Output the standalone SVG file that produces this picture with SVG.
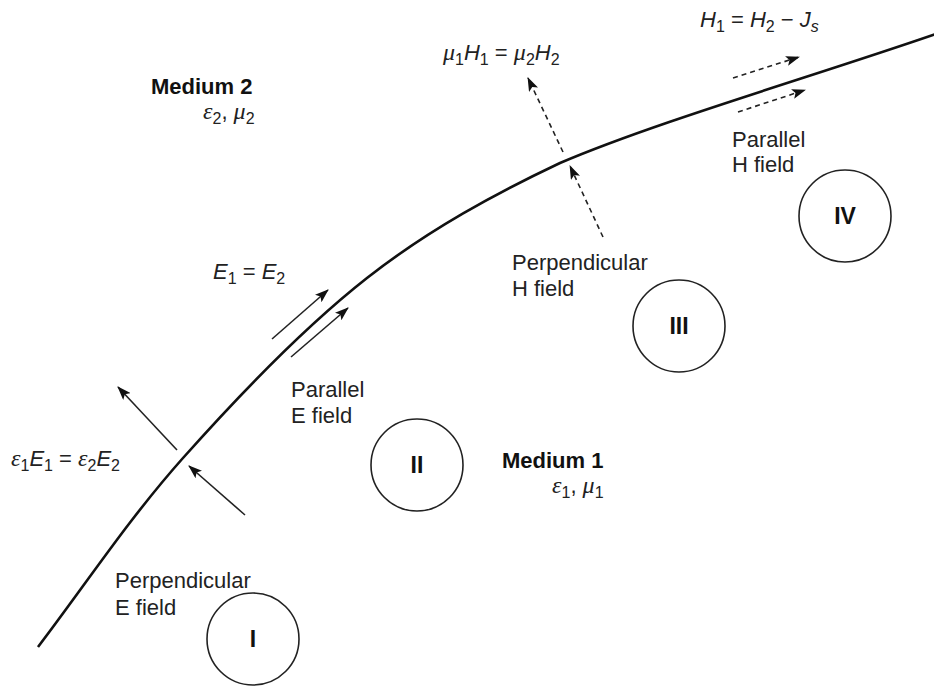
<svg xmlns="http://www.w3.org/2000/svg" width="934" height="689" viewBox="0 0 934 689">
<defs>
<style>
.t{font-family:"Liberation Sans",Arial,sans-serif;font-size:22px;fill:#222}
.b{font-family:"Liberation Sans",Arial,sans-serif;font-size:22px;font-weight:bold;fill:#111}
.m{font-family:"Liberation Sans",Arial,sans-serif;font-size:22px;font-style:italic;fill:#222}
.g{font-family:"Liberation Serif","Times New Roman",serif;font-style:italic;font-size:24px}
.s{font-style:normal;font-size:16px}
.u{font-style:normal}
.circ{fill:none;stroke:#222;stroke-width:1.6}
.num{font-family:"Liberation Sans",Arial,sans-serif;font-size:23px;font-weight:bold;fill:#111;text-anchor:middle}
.arr{stroke:#222;stroke-width:1.6;fill:none;marker-end:url(#ah)}
.dash{stroke:#222;stroke-width:1.6;fill:none;stroke-dasharray:5 4;marker-end:url(#ah)}
</style>
<marker id="ah" viewBox="0 0 14 10" refX="13" refY="5" markerWidth="14" markerHeight="10" markerUnits="userSpaceOnUse" orient="auto">
<path d="M0,0 L14,5 L0,10 L3,5 z" fill="#111"/>
</marker>
</defs>
<rect width="934" height="689" fill="#fff"/>

<g id="interface">
<path d="M38,647 C86,584 128.2,519.5 183,458 C237.8,396.5 304.2,327.2 367,278 C429.8,228.8 496.2,193.2 560,163 C654.5,122.5 809.3,77.7 936,34" fill="none" stroke="#111" stroke-width="2.6"/>
</g>

<g id="connectors">
<line class="arr" x1="177" y1="450" x2="118" y2="387"/>
<line class="arr" x1="245" y1="515" x2="189" y2="466"/>
<line class="arr" x1="272" y1="339" x2="328" y2="290"/>
<line class="arr" x1="291" y1="357" x2="348" y2="308"/>
<line class="dash" x1="563" y1="152" x2="528" y2="78"/>
<line class="dash" x1="603" y1="237" x2="570" y2="166"/>
<line class="dash" x1="733" y1="78" x2="799" y2="57"/>
<line class="dash" x1="738" y1="112" x2="805" y2="90"/>
</g>

<g id="medium2">
<text class="b" x="151" y="94">Medium 2</text>
<text class="m" x="203" y="119"><tspan class="g">ε</tspan><tspan class="s" dy="5">2</tspan><tspan class="u" dy="-5">, </tspan><tspan class="g">μ</tspan><tspan class="s" dy="5">2</tspan></text>
</g>

<g id="medium1">
<text class="b" x="502" y="468">Medium 1</text>
<text class="m" x="552" y="493"><tspan class="g">ε</tspan><tspan class="s" dy="5">1</tspan><tspan class="u" dy="-5">, </tspan><tspan class="g">μ</tspan><tspan class="s" dy="5">1</tspan></text>
</g>

<g id="region-I">
<circle class="circ" cx="253" cy="639" r="46"/>
<text class="num" x="253" y="647">I</text>
<text class="t" x="115" y="588">Perpendicular</text>
<text class="t" x="115" y="615">E field</text>
<text class="m" x="11" y="466"><tspan class="g">ε</tspan><tspan class="s" dy="5">1</tspan><tspan dy="-5">E</tspan><tspan class="s" dy="5">1</tspan><tspan class="u" dy="-5"> = </tspan><tspan class="g">ε</tspan><tspan class="s" dy="5">2</tspan><tspan dy="-5">E</tspan><tspan class="s" dy="5">2</tspan></text>
</g>

<g id="region-II">
<circle class="circ" cx="417" cy="465" r="46"/>
<text class="num" x="417" y="473">II</text>
<text class="t" x="291" y="397">Parallel</text>
<text class="t" x="291" y="423">E field</text>
<text class="m" x="213" y="279"><tspan>E</tspan><tspan class="s" dy="5">1</tspan><tspan class="u" dy="-5"> = </tspan><tspan>E</tspan><tspan class="s" dy="5">2</tspan></text>
</g>

<g id="region-III">
<circle class="circ" cx="679" cy="326" r="46"/>
<text class="num" x="679" y="334">III</text>
<text class="t" x="512" y="270">Perpendicular</text>
<text class="t" x="512" y="296">H field</text>
<text class="m" x="443" y="60"><tspan class="g">μ</tspan><tspan class="s" dy="5">1</tspan><tspan dy="-5">H</tspan><tspan class="s" dy="5">1</tspan><tspan class="u" dy="-5"> = </tspan><tspan class="g">μ</tspan><tspan class="s" dy="5">2</tspan><tspan dy="-5">H</tspan><tspan class="s" dy="5">2</tspan></text>
</g>

<g id="region-IV">
<circle class="circ" cx="845" cy="216" r="46"/>
<text class="num" x="845" y="224">IV</text>
<text class="t" x="732" y="147">Parallel</text>
<text class="t" x="732" y="172">H field</text>
<text class="m" x="700" y="27"><tspan>H</tspan><tspan class="s" dy="5">1</tspan><tspan class="u" dy="-5"> = </tspan><tspan>H</tspan><tspan class="s" dy="5">2</tspan><tspan class="u" dy="-5"> − </tspan><tspan>J</tspan><tspan class="s" style="font-style:italic" dy="5">s</tspan></text>
</g>
</svg>
